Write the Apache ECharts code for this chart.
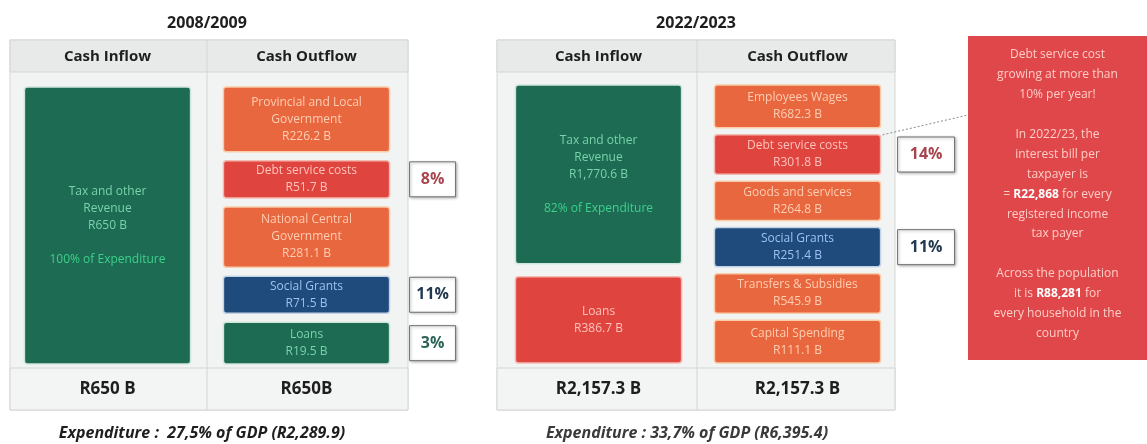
<!DOCTYPE html>
<html>
<head>
<meta charset="utf-8">
<script src="https://cdn.jsdelivr.net/npm/echarts@6/dist/echarts.min.js"></script>
<style>
  html, body { margin: 0; padding: 0; background: #ffffff; }
  #chart { width: 1147px; height: 444px; }
</style>
</head>
<body>
<div id="chart"></div>
<script>
// ---- Budget figures (R billion) ----
const years = ['2008/2009', '2022/2023'];
const columnNames = ['Cash Inflow', 'Cash Outflow'];
const totals2008 = ['R650 B', 'R650B'];
const totals2022 = ['R2,157.3 B', 'R2,157.3 B'];
const gdpNotes = ['Expenditure :  27,5% of GDP (R2,289.9)', 'Expenditure : 33,7% of GDP (R6,395.4)'];

const inflow2008Items = ['Tax and other\nRevenue'];
const inflow2008Values = [650];
const inflow2008Notes = ['100% of Expenditure'];

const outflow2008Items = ['Provincial and Local\nGovernment', 'Debt service costs', 'National Central\nGovernment', 'Social Grants', 'Loans'];
const outflow2008Values = [226.2, 51.7, 281.1, 71.5, 19.5];
const outflow2008Shares = ['', '8%', '', '11%', '3%'];

const inflow2022Items = ['Tax and other\nRevenue', 'Loans'];
const inflow2022Values = [1770.6, 386.7];
const inflow2022Notes = ['82% of Expenditure', ''];

const outflow2022Items = ['Employees Wages', 'Debt service costs', 'Goods and services', 'Social Grants', 'Transfers & Subsidies', 'Capital Spending'];
const outflow2022Values = [682.3, 301.8, 264.8, 251.4, 545.9, 111.1];
const outflow2022Shares = ['', '14%', '', '11%', '', ''];

const calloutLines = [
  'Debt service cost', 'growing at more than', '10% per year!', '',
  'In 2022/23, the', 'interest bill per', 'taxpayer is',
  '= {hi|R22,868} for every', 'registered income', 'tax payer', '',
  'Across the population', 'it is {hi|R88,281} for', 'every household in the', 'country'
];

// ---- Styling ----
const FONT = "'Open Sans', 'Noto Sans', sans-serif";
const palette = {
  green:  { fill: '#1c6b52', edge: '#cfe6dc', text: '#78d3ab', share: '#2d6457' },
  orange: { fill: '#e9673f', edge: '#f8cba9', text: '#ffcdb2', share: '#a8464f' },
  red:    { fill: '#e0443f', edge: '#f4bab2', text: '#ffc3bb', share: '#a8464f' },
  navy:   { fill: '#1f4a7c', edge: '#c3d3e6', text: '#9cc2ef', share: '#22384f' }
};
function toneFor(name, col) {
  if (name.indexOf('Revenue') >= 0) return palette.green;
  if (name === 'Loans') return col === 0 ? palette.red : palette.green;
  if (name === 'Debt service costs') return palette.red;
  if (name === 'Social Grants') return palette.navy;
  return palette.orange;
}
function formatRand(v) {
  const fixed = Number.isInteger(v) ? String(v) : v.toFixed(1);
  const parts = fixed.split('.');
  parts[0] = parts[0].replace(/\B(?=(\d{3})+(?!\d))/g, ',');
  return 'R' + parts.join('.') + ' B';
}

// Stack the blocks of one column; each block's share of the column
// follows the number of text lines it carries.
function layoutColumn(items, values, notes, shares, col) {
  const weights = items.map((n, i) => n.split('\n').length + 1 + (notes && notes[i] ? 1 : 0));
  const total = weights.reduce((a, b) => a + b, 0);
  let acc = 0;
  return items.map((n, i) => {
    const start = acc / total;
    acc += weights[i];
    return {
      col, start, end: acc / total, name: n, value: values[i],
      note: notes ? notes[i] : '', share: shares ? shares[i] : ''
    };
  });
}

const panels = [
  {
    frame: { x: 10, y: 40, w: 398, h: 370, split: 207, headH: 32, footY: 368 },
    grid: { left: 8, top: 87, width: 398, height: 277 },
    gaps: [12, 9], headMargin: 23, footMargin: 17,
    totals: totals2008, title: years[0], titleX: 207, note: gdpNotes[0], noteX: 202, noteColor: '#1e1e1e',
    blocks: layoutColumn(inflow2008Items, inflow2008Values, inflow2008Notes, null, 0)
      .concat(layoutColumn(outflow2008Items, outflow2008Values, null, outflow2008Shares, 1))
  },
  {
    frame: { x: 497, y: 40, w: 398, h: 370, split: 697, headH: 32, footY: 368 },
    grid: { left: 499, top: 85, width: 398, height: 278 },
    gaps: [13, 7], headMargin: 21, footMargin: 18,
    totals: totals2022, title: years[1], titleX: 696, note: gdpNotes[1], noteX: 687, noteColor: '#3a3a3a',
    blocks: layoutColumn(inflow2022Items, inflow2022Values, inflow2022Notes, null, 0)
      .concat(layoutColumn(outflow2022Items, outflow2022Values, null, outflow2022Shares, 1))
  }
];

const callout = { x: 968, y: 36, w: 179, h: 324, anchorY: 115 };

function makeRenderer(panel, panelIdx) {
  return function (params, api) {
    const b = panel.blocks[params.dataIndex];
    const tone = toneFor(b.name, b.col);
    const gap = panel.gaps[b.col];
    const p0 = api.coord([api.value(0), api.value(1)]);
    const p1 = api.coord([api.value(0), api.value(2)]);
    const bw = api.size([1, 0])[0] * 0.835;
    const x = p0[0] - bw / 2;
    const top = p0[1] + (b.start > 0 ? gap / 2 : 0);
    const bottom = p1[1] - (b.end < 1 ? gap / 2 : 0);
    const cy = (top + bottom) / 2;

    let text = b.name + '\n' + formatRand(api.value(3));
    if (b.note) text += '\n\n{note|' + b.note + '}';

    const children = [
      {
        type: 'rect',
        shape: { x: x, y: top, width: bw, height: bottom - top, r: 3 },
        style: { fill: tone.fill, stroke: tone.edge, lineWidth: 1.5 }
      },
      {
        type: 'text',
        style: {
          text: text, x: p0[0], y: cy, align: 'center', verticalAlign: 'middle',
          fill: tone.text, font: '12px ' + FONT, lineHeight: 17,
          rich: { note: { fill: '#3fd08c', font: '12px ' + FONT, lineHeight: 17 } }
        }
      }
    ];

    if (b.share) {
      const sw = panelIdx === 0 ? 46 : 57;
      const sx = x + bw + (panelIdx === 0 ? 20 : 17), sh = 35;
      children.push({
        type: 'rect',
        shape: { x: sx, y: cy - sh / 2, width: sw, height: sh },
        style: { fill: '#ffffff', stroke: '#6f6f6f', lineWidth: 1,
                 shadowColor: 'rgba(0,0,0,0.3)', shadowBlur: 3, shadowOffsetX: 1, shadowOffsetY: 1 }
      });
      children.push({
        type: 'text',
        style: { text: b.share, x: sx + sw / 2, y: cy, align: 'center', verticalAlign: 'middle',
                 fill: tone.share, font: 'bold 16px ' + FONT }
      });
    }

    if (panelIdx === 1 && b.name === 'Debt service costs') {
      children.push({
        type: 'line',
        shape: { x1: x + bw + 2, y1: top, x2: callout.x, y2: callout.anchorY },
        style: { stroke: '#8a8a8a', lineWidth: 1, lineDash: [2, 2] }
      });
    }
    return { type: 'group', children: children };
  };
}

const option = {
  animation: false,
  backgroundColor: '#ffffff',
  grid: panels.map(p => Object.assign({}, p.grid)),
  xAxis: [],
  yAxis: [],
  series: [],
  graphic: []
};

panels.forEach((p, i) => {
  option.xAxis.push({
    gridIndex: i, type: 'category', data: columnNames, position: 'top',
    axisLine: { show: false }, axisTick: { show: false }, splitLine: { show: false },
    axisLabel: { color: '#1e1e1e', fontWeight: 'bold', fontSize: 15, fontFamily: FONT, margin: p.headMargin }
  });
  option.xAxis.push({
    gridIndex: i, type: 'category', data: columnNames, position: 'bottom',
    axisLine: { show: false }, axisTick: { show: false }, splitLine: { show: false },
    axisLabel: { color: '#1e1e1e', fontWeight: 'bold', fontSize: 17, fontFamily: FONT, margin: p.footMargin,
                 formatter: (v, idx) => p.totals[idx] }
  });
  option.yAxis.push({ gridIndex: i, type: 'value', min: 0, max: 1, inverse: true, show: false });
  option.series.push({
    type: 'custom',
    xAxisIndex: i * 2,
    yAxisIndex: i,
    clip: false,
    z: 3,
    renderItem: makeRenderer(p, i),
    encode: { x: 0, y: [1, 2] },
    data: p.blocks.map(b => [b.col, b.start, b.end, b.value])
  });

  // table frame: header row, body, footer row, column divider
  const f = p.frame;
  option.graphic.push(
    { type: 'rect', silent: true, z: 0, shape: { x: f.x, y: f.y, width: f.w, height: f.h },
      style: { fill: '#f2f4f3', stroke: '#d3d6d5', lineWidth: 1 } },
    { type: 'rect', silent: true, z: 0, shape: { x: f.x, y: f.y, width: f.w, height: f.headH },
      style: { fill: '#e8eaea', stroke: '#d3d6d5', lineWidth: 1 } },
    { type: 'rect', silent: true, z: 0, shape: { x: f.x, y: f.footY, width: f.w, height: f.y + f.h - f.footY },
      style: { fill: '#f3f4f4', stroke: '#d3d6d5', lineWidth: 1 } },
    { type: 'line', silent: true, z: 0, shape: { x1: f.split, y1: f.y, x2: f.split, y2: f.y + f.h },
      style: { stroke: '#d3d6d5', lineWidth: 1 } },
    { type: 'text', silent: true, z: 1, x: p.titleX, y: 23,
      style: { text: p.title, align: 'center', verticalAlign: 'middle', fill: '#1e1e1e', font: 'bold 16px ' + FONT } },
    { type: 'text', silent: true, z: 1, x: p.noteX, y: 433,
      style: { text: p.note, align: 'center', verticalAlign: 'middle', fill: p.noteColor, font: 'italic bold 16px ' + FONT } }
  );
});

// callout on debt service cost growth
option.graphic.push(
  { type: 'rect', silent: true, z: 1, shape: { x: callout.x, y: callout.y, width: callout.w, height: callout.h },
    style: { fill: '#e0474a' } },
  { type: 'text', silent: true, z: 2, x: callout.x + callout.w / 2, y: 45,
    style: { text: calloutLines.join('\n'), align: 'center', verticalAlign: 'top', fill: '#ffcdc6',
             font: '12px ' + FONT, lineHeight: 19.9,
             rich: { hi: { fill: '#ffffff', font: 'bold 12px ' + FONT, lineHeight: 19.9 } } } }
);

const chart = echarts.init(document.getElementById('chart'), null, { renderer: 'canvas' });
chart.setOption(option);
</script>
</body>
</html>
